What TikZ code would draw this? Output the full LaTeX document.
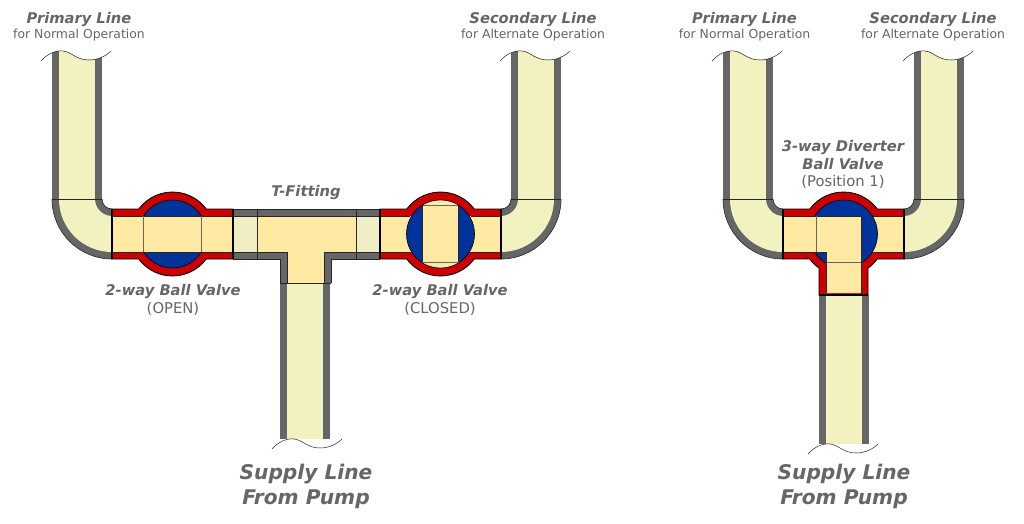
\documentclass[tikz,border=0pt]{standalone}
\usepackage{fontspec}
\setmainfont{DejaVu Sans}
\usepackage{xcolor}
\usetikzlibrary{positioning}

\definecolor{wallgray}{HTML}{666666}
\definecolor{linegreen}{HTML}{F2F2C0}
\definecolor{jointgreen}{HTML}{EEEEC2}
\definecolor{flowyellow}{HTML}{FFE9A3}
\definecolor{valvered}{HTML}{CC0000}
\definecolor{ballblue}{HTML}{003399}

\newcommand{\tornedge}{(-11,10) .. controls (-5,3) and (4,-1) .. (11,0) .. controls (20,1) and (24,9) .. (37,9) .. controls (46,9) and (54,5) .. (59,0)}

% one pipe run: outer left x, y of the torn end, y of the joined end
\newcommand{\pipetop}[3]{
  \begin{scope}[shift={(#1,#2)}]
    \begin{scope}
      \clip \tornedge -- (59,#3-#2) -- (-11,#3-#2) -- cycle;
      \fill[wallgray] (0,0) rectangle (50,#3-#2);
      \fill[linegreen] (7,0) rectangle (43,#3-#2);
    \end{scope}
    \draw[tear] \tornedge;
    \draw[seam] (0,#3-#2) -- (50,#3-#2);
  \end{scope}
}
% same, running down to a torn end: outer left x, y of joint, y of tear, shift of the tear
\newcommand{\pipebottom}[4]{
  \begin{scope}[shift={(#1+#4,#3)}]
    \begin{scope}
      \clip \tornedge -- (59,#2-#3) -- (-11,#2-#3) -- cycle;
      \fill[wallgray] (-#4,0) rectangle (50-#4,#2-#3);
      \fill[linegreen] (7-#4,0) rectangle (43-#4,#2-#3);
    \end{scope}
    \draw[tear] \tornedge;
  \end{scope}
}
% elbow: centre x, centre y, 1 for a pipe on the left, -1 for a pipe on the right
\newcommand{\elbow}[3]{
  \begin{scope}[shift={(#1,#2)},xscale=#3]
    \fill[wallgray] (-60,0) arc[start angle=180,end angle=90,radius=60] -- (0,10) arc[start angle=90,end angle=180,radius=10] -- cycle;
    \fill[linegreen] (-53,0) arc[start angle=180,end angle=90,radius=53] -- (0,17) arc[start angle=90,end angle=180,radius=17] -- cycle;
    \draw[seam] (-60,0) arc[start angle=180,end angle=90,radius=60];
    \draw[seam] (-10,0) arc[start angle=180,end angle=90,radius=10];
  \end{scope}
}
% straight valve body without the ball: left x of the body
\newcommand{\valvebody}[1]{
  \begin{scope}[shift={(#1,234)}]
    \fill[valvered,draw=black,line width=0.9pt] (0,-25) -- (26.8,-25) arc[start angle=216.6,end angle=323.4,radius=42] -- (121,-25) -- (121,25) -- (94.2,25) arc[start angle=36.6,end angle=143.4,radius=42] -- (0,25) -- cycle;
    \fill[flowyellow] (0,-18) rectangle (121,18);
  \end{scope}
}
% the lines left over the ball: left x of the body
\newcommand{\valvelines}[1]{
  \begin{scope}[shift={(#1,234)}]
    \draw[body] (0,-25) -- (0,25) (121,-25) -- (121,25);
  \end{scope}
}

\begin{document}
\begin{tikzpicture}[
    x=1pt, y=-1pt,
    tear/.style={line width=0.5pt, draw=black!85},
    seam/.style={line width=0.6pt, draw=black!85},
    body/.style={line width=1.2pt, draw=black},
    port/.style={line width=0.5pt, draw=black!60},
    ball/.style={fill=ballblue, draw=black, line width=0.6pt},
    title/.style={font=\fontsize{14.7}{14.7}\selectfont\bfseries\itshape, text=wallgray, inner sep=0pt},
    note/.style={font=\fontsize{12.4}{12.4}\selectfont, text=wallgray, inner sep=0pt},
    state/.style={font=\fontsize{14.8}{14.8}\selectfont, text=wallgray, inner sep=0pt},
    big/.style={font=\fontsize{20.2}{20.2}\selectfont\bfseries\itshape, text=wallgray, inner sep=0pt}
]
\useasboundingbox (0,0) rectangle (1024,523);
\fill[white] (0,0) rectangle (1024,523);

% left layout
\elbow{112}{199}{1}
\elbow{501}{199}{-1}
\pipetop{52}{51}{199}
\pipetop{511}{51}{199}
\pipebottom{280}{283}{439}{3}

% T-fitting and joints
\fill[wallgray] (233,209) rectangle (380,259);
\fill[wallgray] (280,259) rectangle (331,283);
\fill[jointgreen] (233,216) rectangle (257,252);
\fill[jointgreen] (356,216) rectangle (380,252);
\fill[flowyellow] (257,216) -- (356,216) -- (356,252) -- (324,252) -- (324,283) -- (287,283) -- (287,252) -- (257,252) -- cycle;
\draw[seam] (257,209) -- (257,259) (356,209) -- (356,259) (280,283) -- (331,283);
\draw[seam] (233,209) -- (380,209) (233,259) -- (280,259) -- (280,283) (380,259) -- (331,259) -- (331,283);
\draw[seam] (233,216) -- (380,216) (233,252) -- (287,252) -- (287,283) (324,283) -- (324,252) -- (380,252);

% open valve
\valvebody{112}
\begin{scope}
  \clip (112,190) rectangle (233,216);
  \fill[ball] (172.5,234) circle[radius=34];
\end{scope}
\begin{scope}
  \clip (112,252) rectangle (233,278);
  \fill[ball] (172.5,234) circle[radius=34];
\end{scope}
\draw[seam] (112,216) -- (233,216) (112,252) -- (233,252);
\draw[port] (143.5,216) -- (143.5,252) (201.5,216) -- (201.5,252);
\valvelines{112}

% closed valve
\valvebody{380}
\draw[seam] (380,216) -- (410,216) (380,252) -- (410,252) (471,216) -- (501,216) (471,252) -- (501,252);
\fill[ball] (440.5,234) circle[radius=34];
\begin{scope}
  \clip (440.5,234) circle[radius=33.6];
  \fill[flowyellow] (422,195) rectangle (458.5,275);
\end{scope}
\draw[port] (422,205) -- (458.5,205) (422,262) -- (458.5,262);
\draw[seam] (422,205) -- (422,262) (458.5,205) -- (458.5,262);
\valvelines{380}

% right layout
\elbow{783}{199}{1}
\elbow{904}{199}{-1}
\pipetop{723}{51}{199}
\pipetop{914}{51}{199}
\pipebottom{819}{295}{444}{0}

% diverter valve
\begin{scope}[shift={(783,234)}]
  \fill[valvered,draw=black,line width=0.9pt] (0,-25) -- (26.8,-25) arc[start angle=216.6,end angle=323.4,radius=42] -- (121,-25) -- (121,25) -- (94.2,25) arc[start angle=36.6,end angle=54.3,radius=42] -- (85,61) -- (36,61) -- (36,34) arc[start angle=125.7,end angle=143.4,radius=42] -- (0,25) -- cycle;
\end{scope}
\fill[flowyellow] (865,216) rectangle (904,252);
\draw[seam] (865,216) -- (904,216) (865,252) -- (904,252);
\fill[ball] (843.5,234) circle[radius=34];
\fill[flowyellow] (783,216) -- (861,216) -- (861,293) -- (826,293) -- (826,252) -- (783,252) -- cycle;
\draw[seam] (783,216) -- (861,216) -- (861,293) (783,252) -- (826,252) -- (826,293);
\draw[port] (816,216) -- (816,252) (826,262) -- (861,262);
\draw[body] (783,209) -- (783,259) (904,209) -- (904,259) (819,295) -- (868,295);

% labels
\node[title] (primaryA) at (79,19) {Primary Line};
\node[note] (normalA) at (79,35.5) {for Normal Operation};
\node[title] (secondaryA) at (533,19) {Secondary Line};
\node[note] (alternateA) at (533,35.5) {for Alternate Operation};
\node[title] (tfitting) at (306,192) {T-Fitting};
\node[title] (valveA) at (173,291) {2-way Ball Valve};
\node[state] (openA) at (173,309) {(OPEN)};
\node[title] (valveB) at (440,291) {2-way Ball Valve};
\node[state] (closedB) at (440,309) {(CLOSED)};
\node[big] (supplyA) at (306,474) {Supply Line};
\node[big] (pumpA) at (306,499) {From Pump};

\node[title] (primaryB) at (744.5,19) {Primary Line};
\node[note] (normalB) at (744.5,35.5) {for Normal Operation};
\node[title] (secondaryB) at (933,19) {Secondary Line};
\node[note] (alternateB) at (933,35.5) {for Alternate Operation};
\node[title] (diverter) at (843,147) {3-way Diverter};
\node[title] (ballvalve) at (843,164) {Ball Valve};
\node[state] (position) at (843,182) {(Position 1)};
\node[big] (supplyB) at (844,474) {Supply Line};
\node[big] (pumpB) at (844,499) {From Pump};

\end{tikzpicture}
\end{document}
